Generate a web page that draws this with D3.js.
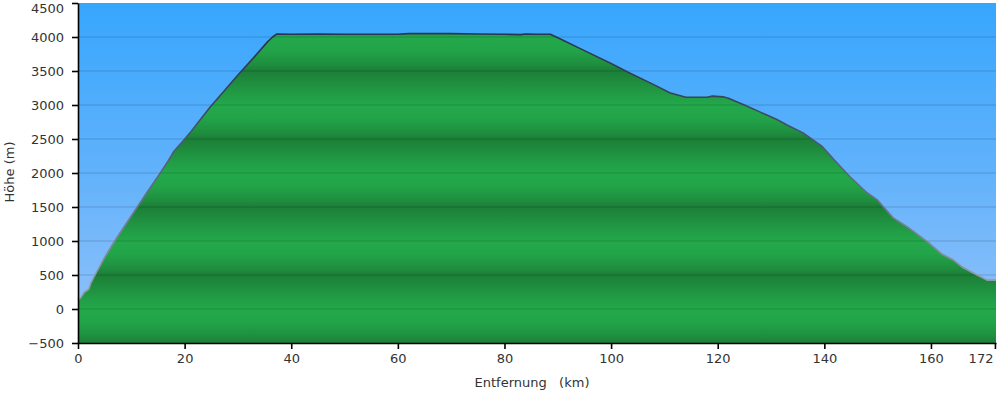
<!doctype html>
<html lang="de">
  <head>
    <meta charset="UTF-8" />
    <title>Höhenprofil</title>
    <script src="https://unpkg.com/d3@7.9.0/dist/d3.min.js"></script>
    <style>
      body {
        margin: 0;
        background: #ffffff;
        overflow: hidden;
        font-family: 'DejaVu Sans', Verdana, sans-serif;
      }
      .tick text {
        font-size: 13px;
        fill: #333333;
        font-family: 'DejaVu Sans', Verdana, sans-serif;
      }
      .tick line,
      .domain {
        stroke: #000000;
        stroke-width: 1.6px;
      }
      .axis-label {
        font-size: 13px;
        fill: #333333;
        white-space: pre;
      }
    </style>
  </head>
  <body>
    <svg width="1000" height="394"></svg>

    <script>
      // Profil: Entfernung (km) und Höhe (m)
      const distances = [
        0, 0.5, 1.2, 2, 2.4, 3.2, 5, 7, 9, 11, 13, 15, 16.7, 18, 19.7, 21,
        23, 24.8, 27, 30, 33, 35.5, 36.5, 37.3, 40, 45, 50, 55, 60, 62, 70,
        75, 80, 83, 84, 86, 88.6, 90.4, 95, 100, 103, 108, 111, 114, 118,
        119, 121, 122, 125, 128, 131, 133, 136, 139.6, 142, 144.8, 148, 150,
        152.9, 155.5, 159.3, 162, 164.2, 166, 168, 170.5, 172.2,
      ];
      const elevations = [
        130, 170, 250, 290, 380, 500, 760, 1015, 1250, 1485, 1720, 1950,
        2150, 2320, 2470, 2590, 2790, 2970, 3170, 3440, 3700, 3925, 4000,
        4045, 4040, 4045, 4040, 4040, 4040, 4050, 4050, 4045, 4040, 4035,
        4045, 4040, 4040, 3975, 3800, 3610, 3490, 3300, 3180, 3115, 3115,
        3130, 3120, 3100, 3000, 2895, 2790, 2705, 2590, 2390, 2180, 1945,
        1710, 1600, 1340, 1210, 990, 810, 720, 610, 525, 425, 425,
      ];
      const xTicks = [0, 20, 40, 60, 80, 100, 120, 140, 160, 172];
      const yTicks = [-500, 0, 500, 1000, 1500, 2000, 2500, 3000, 3500, 4000, 4500];

      const data = distances.map((d, i) => ({ km: d, m: elevations[i] }));

      const plot = { left: 78, right: 996, top: 3, bottom: 343 };

      const svg = d3.select('svg');

      const x = d3.scaleLinear().domain([0, 172.2]).range([plot.left, plot.right]);
      const y = d3.scaleLinear().domain([-500, 4500]).range([plot.bottom, plot.top]);

      const defs = svg.append('defs');

      // Himmel
      const sky = defs
        .append('linearGradient')
        .attr('id', 'sky')
        .attr('gradientUnits', 'userSpaceOnUse')
        .attr('x1', 0)
        .attr('x2', 0)
        .attr('y1', plot.top)
        .attr('y2', plot.bottom);
      sky.append('stop').attr('offset', 0).attr('stop-color', '#37a6fd');
      sky.append('stop').attr('offset', 0.5).attr('stop-color', '#62b2fb');
      sky.append('stop').attr('offset', 1).attr('stop-color', '#97c3f9');

      // Gelände, Streifen alle 1000 m
      const ground = defs
        .append('linearGradient')
        .attr('id', 'ground')
        .attr('gradientUnits', 'userSpaceOnUse')
        .attr('spreadMethod', 'repeat')
        .attr('x1', 0)
        .attr('x2', 0)
        .attr('y1', y(3500))
        .attr('y2', y(2500));
      [
        [0, '#1c7f38'],
        [0.12, '#1e893c'],
        [0.35, '#219d46'],
        [0.5, '#23a84b'],
        [0.68, '#22a549'],
        [0.88, '#1f9140'],
        [1, '#1c7f38'],
      ].forEach(([o, c]) => {
        ground.append('stop').attr('offset', o).attr('stop-color', c);
      });

      // Linie: oben dunkel, unten grau
      const lineGrad = defs
        .append('linearGradient')
        .attr('id', 'lineGrad')
        .attr('gradientUnits', 'userSpaceOnUse')
        .attr('x1', 0)
        .attr('x2', 0)
        .attr('y1', plot.top)
        .attr('y2', plot.bottom);
      lineGrad.append('stop').attr('offset', 0).attr('stop-color', '#232d45');
      lineGrad.append('stop').attr('offset', 0.3).attr('stop-color', '#394560');
      lineGrad.append('stop').attr('offset', 0.6).attr('stop-color', '#6b7589');
      lineGrad.append('stop').attr('offset', 0.9).attr('stop-color', '#9ea6b2');

      svg
        .append('rect')
        .attr('x', plot.left)
        .attr('y', plot.top)
        .attr('width', plot.right - plot.left)
        .attr('height', plot.bottom - plot.top)
        .attr('fill', 'url(#sky)');

      const area = d3
        .area()
        .x((d) => x(d.km))
        .y0(y(-500))
        .y1((d) => y(d.m));

      const line = d3
        .line()
        .x((d) => x(d.km))
        .y((d) => y(d.m));

      svg
        .append('path')
        .datum(data)
        .attr('d', area)
        .attr('fill', 'url(#ground)');

      // Gitterlinien
      svg
        .append('g')
        .selectAll('line')
        .data(yTicks.filter((t) => t > -500 && t < 4500))
        .enter()
        .append('line')
        .attr('x1', plot.left)
        .attr('x2', plot.right)
        .attr('y1', (d) => y(d))
        .attr('y2', (d) => y(d))
        .attr('stroke', '#000')
        .attr('stroke-opacity', 0.17)
        .attr('stroke-width', 1.2);

      svg
        .append('path')
        .datum(data)
        .attr('d', line)
        .attr('fill', 'none')
        .attr('stroke', 'url(#lineGrad)')
        .attr('stroke-width', 1.6)
        .attr('stroke-linejoin', 'round');

      // Achsen
      const yAxis = svg
        .append('g')
        .attr('transform', `translate(${plot.left},0)`)
        .call(
          d3
            .axisLeft(y)
            .tickValues(yTicks)
            .tickSize(6)
            .tickSizeOuter(0)
            .tickPadding(8)
            .tickFormat(d3.format('d')),
        );

      // oberstes Label etwas nach unten, damit es nicht abgeschnitten wird
      yAxis
        .selectAll('.tick text')
        .filter((d) => d === 4500)
        .attr('dy', '0.75em');

      const xAxis = svg
        .append('g')
        .attr('transform', `translate(0,${plot.bottom})`)
        .call(
          d3
            .axisBottom(x)
            .tickValues(xTicks)
            .tickSize(6)
            .tickSizeOuter(0)
            .tickPadding(5)
            .tickFormat(d3.format('d')),
        );

      xAxis
        .selectAll('.tick text')
        .filter((d) => d === 172)
        .attr('text-anchor', 'end')
        .attr('dx', -2);

      svg
        .append('text')
        .attr('class', 'axis-label')
        .attr('x', 532)
        .attr('y', 387)
        .attr('text-anchor', 'middle')
        .text('Entfernung   (km)');

      svg
        .append('text')
        .attr('class', 'axis-label')
        .attr('transform', 'rotate(-90)')
        .attr('x', -172)
        .attr('y', 14)
        .attr('text-anchor', 'middle')
        .text('Höhe (m)');
    </script>
  </body>
</html>
